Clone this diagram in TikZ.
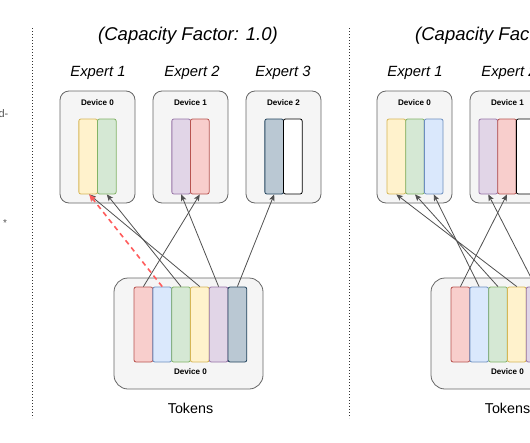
\documentclass[tikz,border=0pt]{standalone}
\usepackage{fontspec}
\setmainfont{Liberation Sans}
\usetikzlibrary{arrows.meta}
\definecolor{boxfill}{HTML}{F5F5F5}
\definecolor{boxline}{HTML}{666666}
\definecolor{redF}{HTML}{F8CECC}\definecolor{redD}{HTML}{B85450}
\definecolor{blueF}{HTML}{DAE8FC}\definecolor{blueD}{HTML}{6C8EBF}
\definecolor{greenF}{HTML}{D5E8D4}\definecolor{greenD}{HTML}{82B366}
\definecolor{yelF}{HTML}{FFF2CC}\definecolor{yelD}{HTML}{D6B656}
\definecolor{purF}{HTML}{E1D5E7}\definecolor{purD}{HTML}{9673A6}
\definecolor{bgF}{HTML}{BAC8D3}\definecolor{bgD}{HTML}{23445D}
\definecolor{linec}{HTML}{505050}
\definecolor{dashred}{HTML}{FF5C5C}
\definecolor{fraggray}{HTML}{555555}
\begin{document}
\begin{tikzpicture}[x=1pt,y=-1pt,
  devbox/.style={draw=boxline, fill=boxfill, rounded corners=9pt, line width=0.8pt,
    minimum width=75pt, minimum height=112pt, inner sep=0pt},
  tokbox/.style={draw=boxline, fill=boxfill, rounded corners=14pt, line width=0.8pt,
    minimum width=149pt, minimum height=111pt, inner sep=0pt},
  bar/.style={rounded corners=2pt, minimum width=18.7pt, minimum height=75pt,
    inner sep=0pt, line width=0.8pt},
  rb/.style={bar, fill=redF, draw=redD},
  bb/.style={bar, fill=blueF, draw=blueD},
  gb/.style={bar, fill=greenF, draw=greenD},
  yb/.style={bar, fill=yelF, draw=yelD},
  pb/.style={bar, fill=purF, draw=purD},
  sb/.style={bar, fill=bgF, draw=bgD},
  wb/.style={bar, fill=white, draw=black},
  devlabel/.style={font=\fontsize{8.1}{9}\selectfont\bfseries, inner sep=0pt},
  titlelabel/.style={font=\fontsize{18.5}{21}\selectfont\itshape, inner sep=0pt},
  explabel/.style={font=\fontsize{14.8}{17}\selectfont\itshape, inner sep=0pt},
  toklabel/.style={font=\fontsize{14.3}{17}\selectfont, inner sep=0pt},
  conn/.style={draw=linec, line width=0.8pt, -{Stealth[length=6.5pt,width=5.5pt,inset=1.5pt]}},
  dropconn/.style={draw=dashred, line width=1.6pt, dash pattern=on 5pt off 4pt,
    -{Stealth[length=7pt,width=6pt,inset=1.5pt]}},
  divider/.style={draw=black!80, line width=0.9pt, dash pattern=on 1pt off 2pt}
]
\useasboundingbox (0,0) rectangle (530,442);
\begin{scope}
\clip (0,0) rectangle (530,442);

% left-edge fragments
\node[anchor=east, text=fraggray, font=\fontsize{11}{12}\selectfont, inner sep=0pt] (fragA) at (8.5,113.5) {d-};
\node[text=fraggray, font=\fontsize{10}{11}\selectfont, inner sep=0pt] (fragB) at (5,223) {*};

% dividers
\coordinate (dA1) at (32.5,28); \coordinate (dA2) at (32.5,418);
\coordinate (dB1) at (349,28); \coordinate (dB2) at (349,418);
\draw[divider] (dA1) -- (dA2);
\draw[divider] (dB1) -- (dB2);

%% ---------------- Left panel ----------------
\node[titlelabel] (Ltitle) at (188,36) {(Capacity Factor: 1.0)};
\node[explabel] (Le1) at (98,73) {Expert 1};
\node[explabel] (Le2) at (192,73) {Expert 2};
\node[explabel] (Le3) at (283,73) {Expert 3};

\node[devbox] (LD0) at (97.5,147) {};
\node[devbox] (LD1) at (190.5,147) {};
\node[devbox] (LD2) at (283.5,147) {};
\node[devlabel] (LD0l) at (97.5,103) {Device 0};
\node[devlabel] (LD1l) at (190.5,103) {Device 1};
\node[devlabel] (LD2l) at (283.5,103) {Device 2};

\node[yb] (LAy) at (88.2,156.5) {};
\node[gb] (LAg) at (106.8,156.5) {};
\node[pb] (LBp) at (181.2,156.5) {};
\node[rb] (LBr) at (199.8,156.5) {};
\node[sb] (LCs) at (274.2,156.5) {};
\node[wb] (LCw) at (292.8,156.5) {};

\node[tokbox] (LT) at (188.5,333.5) {};
\node[rb] (LTr) at (143.4,324.5) {};
\node[bb] (LTb) at (162.2,324.5) {};
\node[gb] (LTg) at (181.0,324.5) {};
\node[yb] (LTy) at (199.8,324.5) {};
\node[pb] (LTp) at (218.6,324.5) {};
\node[sb] (LTs) at (237.4,324.5) {};
\node[devlabel] (LTl) at (190.5,372) {Device 0};
\node[toklabel] (Ltok) at (190.5,408) {Tokens};

\draw[conn] (LTr.north) -- (LBr.south);
\draw[conn] (LTp.north) -- (LBp.south);
\draw[conn] (LTg.north) -- (LAg.south);
\draw[conn] (LTy.north) -- ([xshift=1pt]LAy.south);
\draw[conn] (LTs.north) -- (LCs.south);
\draw[dropconn] (LTb.north) -- ([xshift=1pt]LAy.south);

%% ---------------- Right panel ----------------
\node[titlelabel] (Rtitle) at (505,36) {(Capacity Factor: 1.5)};
\node[explabel] (Re1) at (415,73) {Expert 1};
\node[explabel] (Re2) at (509,73) {Expert 2};

\node[devbox] (RD0) at (414.5,147) {};
\node[devbox] (RD1) at (507.5,147) {};
\node[devlabel] (RD0l) at (414.5,103) {Device 0};
\node[devlabel] (RD1l) at (507.5,103) {Device 1};

\node[yb] (RAy) at (396.3,156.5) {};
\node[gb] (RAg) at (415.0,156.5) {};
\node[bb] (RAb) at (433.7,156.5) {};
\node[pb] (RBp) at (488.3,156.5) {};
\node[rb] (RBr) at (507.0,156.5) {};
\node[wb] (RBw) at (525.7,156.5) {};

\node[tokbox] (RT) at (505.5,333.5) {};
\node[rb] (RTr) at (460.4,324.5) {};
\node[bb] (RTb) at (479.2,324.5) {};
\node[gb] (RTg) at (498.0,324.5) {};
\node[yb] (RTy) at (516.8,324.5) {};
\node[pb] (RTp) at (535.6,324.5) {};
\node[devlabel] (RTl) at (507.5,372) {Device 0};
\node[toklabel] (Rtok) at (507.5,408) {Tokens};

\draw[conn] (RTr.north) -- (RBr.south);
\draw[conn] (RTp.north) -- (RBp.south);
\draw[conn] (RTb.north) -- (RAb.south);
\draw[conn] (RTg.north) -- (RAg.south);
\draw[conn] (RTy.north) -- (RAy.south);
\end{scope}
\end{tikzpicture}
\end{document}
